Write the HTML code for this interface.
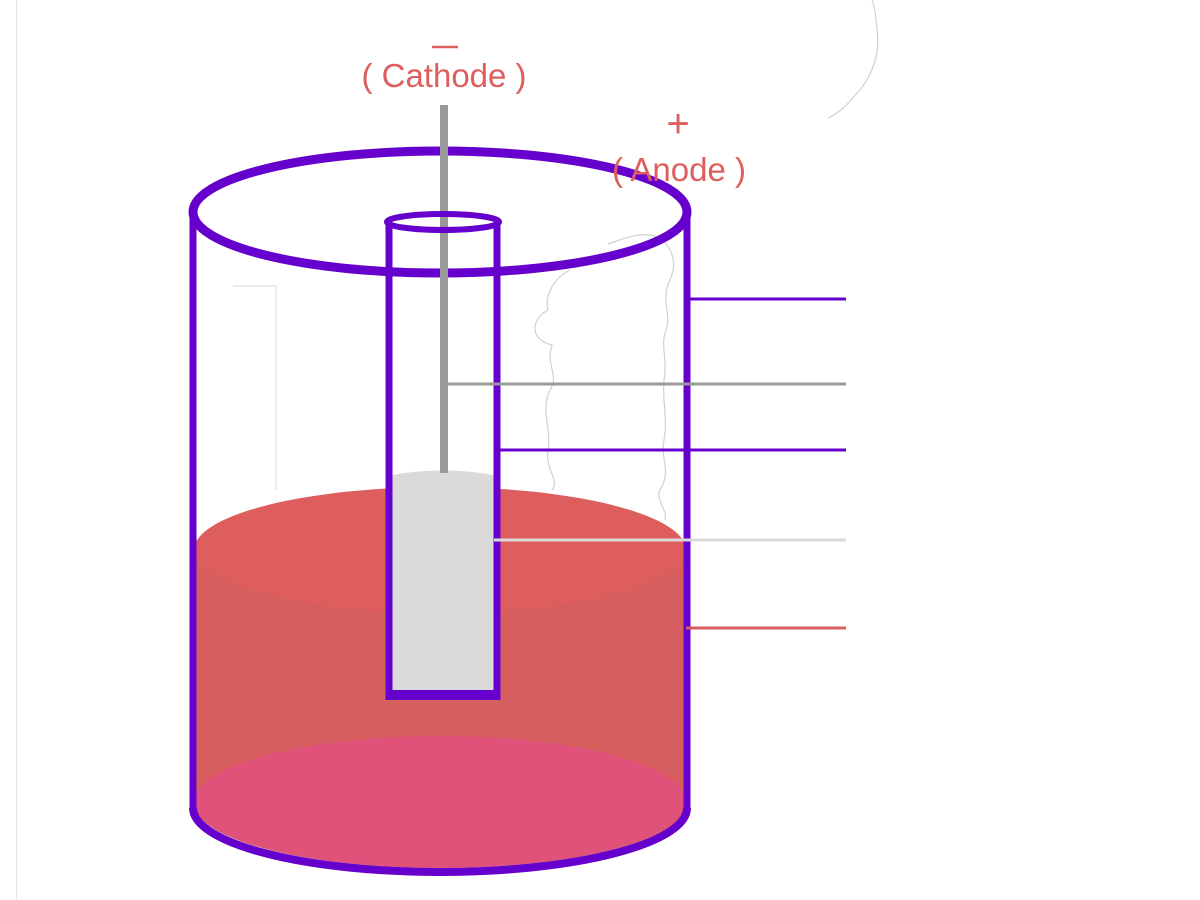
<!DOCTYPE html>
<html><head><meta charset="utf-8"><style>
html,body{margin:0;padding:0;background:#fff;}
svg{display:block;}
text{font-family:"Liberation Sans",sans-serif;fill:#de5e5e;}
</style></head><body>
<svg width="1200" height="900" viewBox="0 0 1200 900">
<line x1="16.5" y1="0" x2="16.5" y2="900" stroke="#e6e6e6" stroke-width="1"/>
<path d="M828 118 C845 110 850 100 860 90 C875 70 880 50 877 30 C876 15 874 5 872 0" fill="none" stroke="#d0d0d0" stroke-width="1.2"/>
<g>
<path d="M195 550 L686 550 L686 808 A246 64 0 0 1 195 808 Z" fill="#d65e5e"/>
<ellipse cx="440" cy="550" rx="246" ry="63" fill="#de5e5e"/>
<ellipse cx="440" cy="802" rx="246" ry="66" fill="#e0527a"/>
</g>
<path d="M233 286 L276 286 L276 490" fill="none" stroke="#d8d8d8" stroke-width="1"/>
<path d="M608 244 C625 238 640 232 655 236 C672 244 678 262 670 280 C660 300 672 315 666 330 C660 345 668 360 664 380 C662 400 668 420 664 440 C660 460 672 470 660 490 C655 500 668 510 665 520" fill="none" stroke="#d0d0d0" stroke-width="1.2"/>
<path d="M570 270 C550 280 545 300 548 310 C530 320 530 340 552 345 C545 365 560 375 550 390 C540 410 552 430 548 450 C545 470 560 480 552 490" fill="none" stroke="#d0d0d0" stroke-width="1.2"/>
<g>
<line x1="193" y1="212" x2="193" y2="810" stroke="#6600cc" stroke-width="7"/>
<line x1="687" y1="212" x2="687" y2="810" stroke="#6600cc" stroke-width="7"/>
<path d="M193 808 A247 64 0 0 0 687 808" fill="none" stroke="#6600cc" stroke-width="8"/>
<ellipse cx="440" cy="212" rx="247" ry="61" fill="none" stroke="#6600cc" stroke-width="9"/>
</g>
<g>
<path d="M392 475 Q443 466 494 475 L494 692 L392 692 Z" fill="#dadada"/>
<rect x="440" y="105" width="8" height="368" fill="#999999"/>
<line x1="389" y1="222" x2="389" y2="700" stroke="#6600cc" stroke-width="7"/>
<line x1="497" y1="222" x2="497" y2="700" stroke="#6600cc" stroke-width="7"/>
<rect x="386" y="690" width="114" height="10" fill="#6600cc"/>
<ellipse cx="443" cy="222" rx="56" ry="8" fill="none" stroke="#6600cc" stroke-width="6"/>
</g>
<g>
<line x1="688" y1="299" x2="846" y2="299" stroke="#6600cc" stroke-width="3"/>
<line x1="448" y1="384" x2="846" y2="384" stroke="#999999" stroke-width="3"/>
<line x1="500" y1="450" x2="846" y2="450" stroke="#6600cc" stroke-width="3"/>
<line x1="494" y1="540" x2="846" y2="540" stroke="#dadada" stroke-width="3"/>
<line x1="686" y1="628" x2="846" y2="628" stroke="#d65e5e" stroke-width="3"/>
</g>
<line x1="432" y1="47" x2="458" y2="47" stroke="#de5e5e" stroke-width="2.5"/>
<text x="444" y="87" font-size="33" text-anchor="middle">( Cathode )</text>
<text x="678" y="137" font-size="40" text-anchor="middle">+</text>
<text x="679" y="181" font-size="33" text-anchor="middle">( Anode )</text>
</svg>
</body></html>
